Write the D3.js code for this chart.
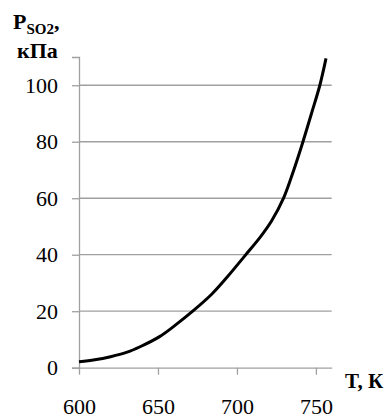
<!DOCTYPE html>
<html lang="ru">
<head>
    <meta charset="UTF-8">
    <title>P SO2 vs T</title>
    <style>
        body { margin: 0; background: #fff; }
        svg text { font-family: 'Liberation Serif', 'Times New Roman', serif; }
    </style>
    <script src="https://d3js.org/d3.v7.min.js"></script>
</head>
<body>
    <svg width="390" height="418"></svg>
    <script>
        // values
        const temps = [600, 610, 620, 630, 639, 651, 662, 672, 684, 694, 705, 715, 722, 729.5, 736, 741.8, 747.2, 752.5, 756.4];
        const press = [2.1, 2.8, 3.9, 5.4, 7.5, 11, 15.5, 20, 26, 32.2, 39.6, 46.4, 52, 60, 70, 80, 90, 100, 109.5];
        const xTicks = [600, 650, 700, 750];
        const yTicks = [0, 20, 40, 60, 80, 100];

        const svg = d3.select("svg");

        const x = d3.scaleLinear().domain([600, 760]).range([79, 331.7]);
        const y = d3.scaleLinear().domain([0, 110]).range([367.7, 57]);

        const grey = "#a0a0a0";

        // horizontal grid
        svg.append("g")
            .selectAll("line")
            .data(yTicks.filter(d => d > 0))
            .enter().append("line")
            .attr("x1", x(600)).attr("x2", x(760))
            .attr("y1", d => y(d)).attr("y2", d => y(d))
            .attr("stroke", grey).attr("stroke-width", 1.3);

        // y axis
        const yAxis = svg.append("g")
            .attr("transform", `translate(${x(600)},0)`)
            .call(d3.axisLeft(y).tickValues(yTicks).tickSize(7).tickPadding(14));
        yAxis.select(".domain").attr("stroke", grey).attr("stroke-width", 1.3);
        yAxis.selectAll(".tick line").attr("stroke", grey).attr("stroke-width", 1.3);
        yAxis.selectAll("text").attr("fill", "#000").style("font-size", "22px")
            .style("font-family", "'Liberation Serif', serif");

        // x axis
        const xAxis = svg.append("g")
            .attr("transform", `translate(0,${y(0)})`)
            .call(d3.axisBottom(x).tickValues(xTicks).tickSize(7).tickSizeOuter(0).tickPadding(24));
        xAxis.select(".domain").attr("stroke", grey).attr("stroke-width", 1.3);
        xAxis.selectAll(".tick line").attr("stroke", grey).attr("stroke-width", 1.3);
        xAxis.selectAll("text").attr("fill", "#000").style("font-size", "22px")
            .style("font-family", "'Liberation Serif', serif");

        // curve
        const pts = temps.map((t, i) => [t, press[i]]);
        svg.append("path")
            .datum(pts)
            .attr("fill", "none")
            .attr("stroke", "#000")
            .attr("stroke-width", 3)
            .attr("d", d3.line().x(d => x(d[0])).y(d => y(d[1])).curve(d3.curveCatmullRom.alpha(0.5)));

        // axis titles
        const yt = svg.append("text")
            .attr("x", 13).attr("y", 29)
            .style("font-size", "22px").style("font-weight", "700");
        yt.append("tspan").text("P");
        yt.append("tspan").attr("dy", 5).style("font-size", "15px").text("SO2");
        yt.append("tspan").attr("dy", -5).text(",");

        svg.append("text")
            .attr("x", 17).attr("y", 58)
            .style("font-size", "22px").style("font-weight", "700")
            .text("кПа");

        svg.append("text")
            .attr("x", 345).attr("y", 388)
            .style("font-size", "21px").style("font-weight", "700")
            .text("T, К");
    </script>
</body>
</html>
